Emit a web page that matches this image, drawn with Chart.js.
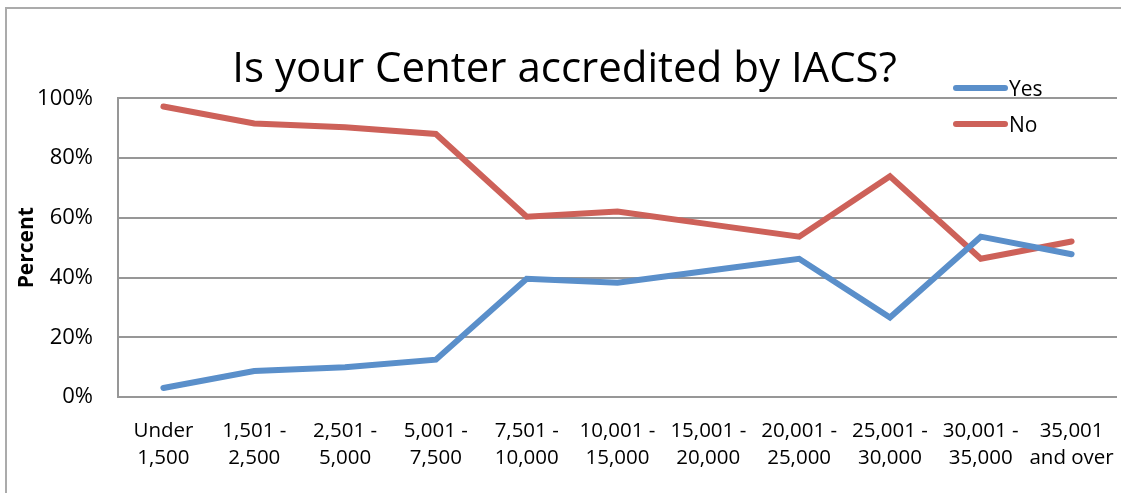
<!DOCTYPE html>
<html>
<head>
<meta charset="utf-8">
<script src="https://cdn.jsdelivr.net/npm/chart.js@4.4.1/dist/chart.umd.min.js"></script>
<style>
  html, body { margin: 0; padding: 0; background: #fff; overflow: hidden; }
  #wrap { width: 1121px; height: 493px; position: relative; }
</style>
</head>
<body>
<div id="wrap"><canvas id="chart" width="1121" height="493"></canvas></div>
<script>
// categories (bed/size ranges) and percentages
const categories = [
  ['Under', '1,500'], ['1,501 -', '2,500'], ['2,501 -', '5,000'], ['5,001 -', '7,500'],
  ['7,501 -', '10,000'], ['10,001 -', '15,000'], ['15,001 -', '20,000'], ['20,001 -', '25,000'],
  ['25,001 -', '30,000'], ['30,001 -', '35,000'], ['35,001', 'and over']
];
const yesValues = [3.0, 8.7, 10.0, 12.5, 39.6, 38.3, 42.3, 46.3, 26.6, 53.7, 47.8];
const noValues = [97.3, 91.6, 90.3, 88.1, 60.4, 62.1, 57.9, 53.7, 73.9, 46.3, 52.1];
const yTicks = [0, 20, 40, 60, 80, 100];

const FONT = "'Open Sans', sans-serif";
const BLUE = '#5A8FCA';
const RED = '#CD6159';
const GRID = '#979797';

// outer frame + legend drawn by hand (Excel style legend overlaps the plot top)
const framePlugin = {
  id: 'frame',
  beforeDraw(chart) {
    const ctx = chart.ctx;
    ctx.save();
    ctx.fillStyle = '#fff';
    ctx.fillRect(0, 0, chart.width, chart.height);
    ctx.strokeStyle = '#ABABAB';
    ctx.lineWidth = 2;
    ctx.beginPath();
    ctx.moveTo(6, chart.height);
    ctx.lineTo(6, 8);
    ctx.lineTo(chart.width, 8);
    ctx.stroke();
    ctx.restore();
  },
  afterDraw(chart) {
    const ctx = chart.ctx;
    ctx.save();
    ctx.lineCap = 'round';
    ctx.lineWidth = 6;
    ctx.font = '21px ' + FONT;
    ctx.textBaseline = 'middle';
    ctx.fillStyle = '#000';
    chart.data.datasets.forEach((ds, i) => {
      const y = 88 + i * 36;
      ctx.strokeStyle = ds.borderColor;
      ctx.beginPath();
      ctx.moveTo(956, y);
      ctx.lineTo(1005, y);
      ctx.stroke();
      ctx.fillText(ds.label, 1009, y + 2);
    });
    ctx.restore();
  }
};

new Chart(document.getElementById('chart'), {
  type: 'line',
  data: {
    labels: categories,
    datasets: [
      { label: 'Yes', data: yesValues, borderColor: BLUE, backgroundColor: BLUE },
      { label: 'No', data: noValues, borderColor: RED, backgroundColor: RED }
    ]
  },
  options: {
    responsive: false,
    animation: false,
    devicePixelRatio: 1,
    layout: { padding: { left: 12, right: 4, top: 0, bottom: 0 } },
    elements: {
      line: { borderWidth: 6, tension: 0, borderCapStyle: 'round', borderJoinStyle: 'miter' },
      point: { radius: 0, hoverRadius: 0 }
    },
    plugins: {
      legend: { display: false },
      tooltip: { enabled: false },
      title: {
        display: true,
        text: 'Is your Center accredited by IACS?',
        color: '#000',
        font: { family: FONT, size: 42, weight: 'normal', lineHeight: 1.2 },
        padding: { top: 45, bottom: 3 }
      }
    },
    scales: {
      x: {
        offset: true,
        grid: { display: false, drawTicks: false },
        border: { display: false },
        ticks: {
          color: '#000',
          padding: 20,
          maxRotation: 0,
          autoSkip: false,
          font: { family: FONT, size: 20.5, lineHeight: 1.35 }
        },
        afterFit(scale) {
          scale.height = 96;
          scale.paddingLeft = 0;
          scale.paddingRight = 0;
        }
      },
      y: {
        min: 0,
        max: 100,
        afterBuildTicks(scale) { scale.ticks = yTicks.map(v => ({ value: v })); },
        grid: { color: GRID, lineWidth: 2, drawTicks: false },
        border: { display: true, color: GRID, width: 2 },
        ticks: {
          color: '#000',
          padding: 25,
          font: { family: FONT, size: 22 },
          callback: v => v + '%'
        },
        title: {
          display: true,
          text: 'Percent',
          color: '#000',
          font: { family: FONT, size: 21, weight: 'bold' },
          padding: { top: 2, bottom: 0 }
        },
        afterFit(scale) { scale.width = 106; }
      }
    }
  },
  plugins: [framePlugin]
});
</script>
</body>
</html>
